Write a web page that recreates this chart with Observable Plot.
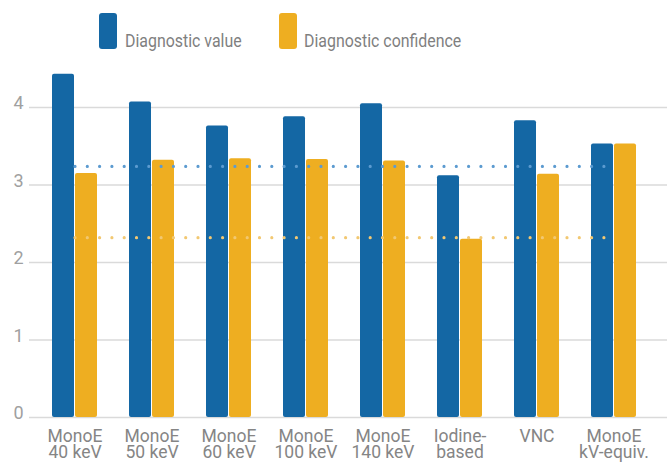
<!DOCTYPE html>
<html>
<head>
<meta charset="utf-8">
<script src="https://cdn.jsdelivr.net/npm/d3@7"></script>
<script src="https://cdn.jsdelivr.net/npm/@observablehq/plot@0.6"></script>
<style>
  html, body { margin: 0; padding: 0; background: #fff; }
  body { width: 667px; height: 464px; overflow: hidden; font-family: Roboto, "Open Sans", sans-serif; }
  #legend { position: relative; height: 60px; width: 667px; }
  .sw { position: absolute; top: 13px; width: 18px; height: 36px; border-radius: 3px; }
  .lt { position: absolute; top: 32px; font-size: 18.5px; line-height: 18.5px; color: #7f7f7f; white-space: nowrap;
        transform: scaleX(0.86); transform-origin: 0 0; }
  #chart svg { display: block; }
</style>
</head>
<body>
<div id="legend"></div>
<div id="chart"></div>
<script>
// ---- data ----
const categories = ["MonoE 40 keV", "MonoE 50 keV", "MonoE 60 keV", "MonoE 100 keV", "MonoE 140 keV", "Iodine-based", "VNC", "MonoE kV-equiv."];
const tickLabels = ["MonoE\n40 keV", "MonoE\n50 keV", "MonoE\n60 keV", "MonoE\n100 keV", "MonoE\n140 keV", "Iodine-\nbased", "VNC", "MonoE\nkV-equiv."];
const diagnosticValue = [4.43, 4.07, 3.76, 3.88, 4.05, 3.12, 3.83, 3.53];
const diagnosticConfidence = [3.15, 3.32, 3.34, 3.33, 3.31, 2.30, 3.14, 3.53];
const seriesNames = ["Diagnostic value", "Diagnostic confidence"];
const valueReference = 3.24;
const confidenceReference = 2.32;
const yTicks = [0, 1, 2, 3, 4];

// ---- styles ----
const BLUE = "#1467a4", ORANGE = "#eeae21";
const BLUE_DOT = "#5c9bd0", ORANGE_DOT = "#f2c872";

// legend
const legend = document.getElementById("legend");
[[seriesNames[0], BLUE, 99, 125], [seriesNames[1], ORANGE, 279, 304]].forEach(([name, col, sx, tx]) => {
  const s = document.createElement("div");
  s.className = "sw"; s.style.left = sx + "px"; s.style.background = col;
  legend.appendChild(s);
  const t = document.createElement("div");
  t.className = "lt"; t.style.left = tx + "px"; t.textContent = name;
  legend.appendChild(t);
});

const rows = categories.map((c, i) => ({cat: c, v: diagnosticValue[i], c2: diagnosticConfidence[i]}));
const refRowsV = categories.map(c => ({cat: c, y: valueReference}));
const refRowsC = categories.map(c => ({cat: c, y: confidenceReference}));

const chart = Plot.plot({
  width: 667,
  height: 404,
  marginLeft: 29,
  marginRight: 0,
  marginTop: 47,
  marginBottom: 47,
  style: {fontFamily: "Roboto, 'Open Sans', sans-serif", background: "#fff"},
  x: {type: "band", domain: categories, range: [48, 640], paddingInner: 0.41, paddingOuter: 0, axis: null, label: null},
  y: {domain: [0, 4], axis: null, label: null},
  marks: [
    Plot.ruleY(yTicks, {stroke: "#dadada", strokeWidth: 1.5}),
    Plot.barY(rows, {x: "cat", y: "v", fill: BLUE, insetRight: 23, rx: 2}),
    Plot.barY(rows, {x: "cat", y: "c2", fill: ORANGE, insetLeft: 23, rx: 2}),
    Plot.lineY(refRowsV, {x: "cat", y: "y", stroke: BLUE_DOT, strokeWidth: 3.2, strokeLinecap: "round", strokeDasharray: "0 12.3"}),
    Plot.lineY(refRowsC, {x: "cat", y: "y", stroke: ORANGE_DOT, strokeWidth: 3.2, strokeLinecap: "round", strokeDasharray: "0 12.3"}),
    Plot.axisY(yTicks, {tickSize: 0, tickPadding: 6, dy: -4, fontSize: 18, fill: "#a0a0a0", textAnchor: "end", label: null,
      tickFormat: (d) => String(d)}),
    Plot.axisX(categories, {tickSize: 0, tickPadding: 14, fontSize: 17.5, fill: "#858585", lineHeight: 0.87, label: null,
      tickFormat: (d) => tickLabels[categories.indexOf(d)]})
  ]
});
document.getElementById("chart").appendChild(chart);
</script>
</body>
</html>
